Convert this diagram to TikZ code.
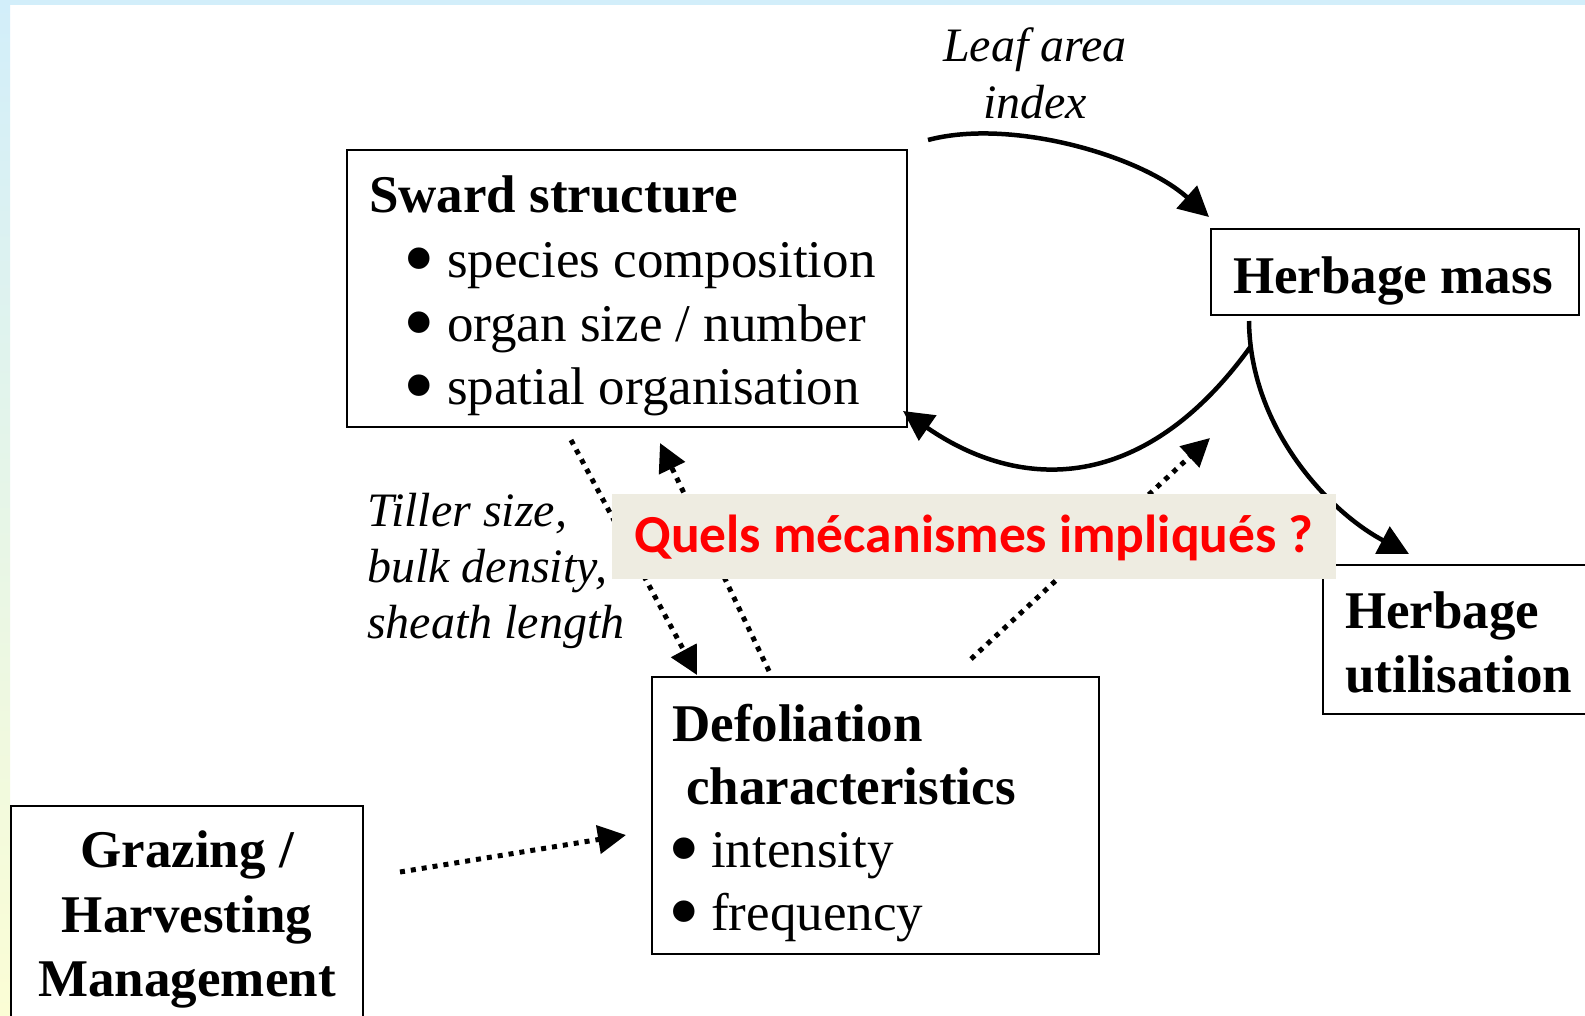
\documentclass[tikz,border=0pt]{standalone}
\usepackage{fontspec}
\setmainfont{Liberation Serif}
\newfontfamily\calibfont{Carlito}
\usetikzlibrary{arrows.meta}
\definecolor{framesky}{HTML}{D2EEFA}
\definecolor{framemint}{HTML}{E2F5E8}
\definecolor{framelemon}{HTML}{FBFDD5}
\definecolor{notetan}{HTML}{EEECE1}
\definecolor{notered}{HTML}{FF0000}
\newcommand{\boxfont}{\fontsize{53}{63}\selectfont}
\newcommand{\labfont}{\fontsize{48}{57}\selectfont\itshape}
\newcommand{\bigbul}{\raisebox{-11pt}[0pt][0pt]{\scalebox{1.7}{\textbullet}}}
\tikzset{
  sbox/.style={rectangle, draw=black, line width=2pt, inner sep=0pt},
  headtxt/.style={anchor=base west, inner sep=0pt, font=\boxfont\bfseries},
  itemtxt/.style={anchor=base west, inner sep=0pt, font=\boxfont},
  labtxt/.style={anchor=base west, inner sep=0pt, font=\labfont},
  flow/.style={line width=4.5pt, -{Triangle[length=30pt,width=30pt]}},
  dotflow/.style={line width=5pt, dash pattern=on 5pt off 6pt,
                  -{Triangle[length=28pt,width=28pt]}},
  notebox/.style={rectangle, fill=notetan, inner sep=0pt,
                  minimum width=724pt, minimum height=85pt, text=notered,
                  font=\calibfont\bfseries\fontsize{53.5}{60}\selectfont},
}

\begin{document}
\begin{tikzpicture}[x=1pt, y=-1pt]
  \useasboundingbox (0,0) rectangle (1585,1015);
  % --- slide frame ---
  \fill[white] (0,0) rectangle (1585,1015);
  \fill[framesky] (0,0) rectangle (1585,5);
  \shade[top color=framesky, middle color=framemint, bottom color=framelemon]
    (0,0) rectangle (10,1015);

  % --- Boxes ---
  \node[sbox, minimum width=560pt, minimum height=277pt] (sward) at (627,288.5) {};
  \node[sbox, minimum width=368pt, minimum height=86pt]  (mass)  at (1395,272) {};
  \node[sbox, minimum width=272pt, minimum height=149pt] (util)  at (1459,639.5) {};
  \node[sbox, minimum width=447pt, minimum height=277pt] (defol) at (875.5,815.5) {};
  \node[sbox, minimum width=352pt, minimum height=224pt] (graz)  at (187,918) {};

  % Sward structure
  \node[headtxt] (swardhd) at (369,212) {Sward structure};
  \node[itemtxt] (swardi1) at (403,277) {\bigbul\hspace{12.5pt}species composition};
  \node[itemtxt] (swardi2) at (403,341) {\bigbul\hspace{12.5pt}organ size / number};
  \node[itemtxt] (swardi3) at (403,404) {\bigbul\hspace{12.5pt}spatial organisation};

  % Herbage mass / utilisation
  \node[headtxt] (masshd) at (1233,293) {Herbage mass};
  \node[headtxt] (utilhd1) at (1345,628) {Herbage};
  \node[headtxt] (utilhd2) at (1345,692) {utilisation};

  % Defoliation characteristics
  \node[headtxt] (defolhd1) at (672,741) {Defoliation};
  \node[headtxt] (defolhd2) at (686,804) {characteristics};
  \node[itemtxt] (defoli1) at (668,867) {\bigbul\hspace{11.5pt}intensity};
  \node[itemtxt] (defoli2) at (668,930) {\bigbul\hspace{11.5pt}frequency};

  % Grazing / Harvesting Management
  \node[headtxt, anchor=base] (grazhd1) at (187,867) {Grazing /};
  \node[headtxt, anchor=base] (grazhd2) at (187,932) {Harvesting};
  \node[headtxt, anchor=base] (grazhd3) at (187,996) {Management};

  % Labels
  \node[labtxt, anchor=base] (lai1) at (1035,61)  {Leaf area};
  \node[labtxt, anchor=base] (lai2) at (1035,118) {index};
  \node[labtxt] (til1) at (367,526) {Tiller size,};
  \node[labtxt] (til2) at (367,582) {bulk density,};
  \node[labtxt] (til3) at (367,638) {sheath length};

  % --- Solid flows ---
  \draw[flow] ([shift={(20,-9)}]sward.north east)
    .. controls (1010,118) and (1140,155) .. ([shift={(-1,-11)}]mass.north west);
  \draw[flow] ([shift={(41,30)}]mass.south west)
    .. controls (1144,495) and (1020,492) .. ([shift={(-5,-17)}]sward.south east);
  \draw[flow] ([shift={(39,5)}]mass.south west)
    .. controls (1250,430) and (1331,513) .. ([shift={(87,-10)}]util.north west);

  % --- Dotted flows ---
  \coordinate (growth) at (1210,438);
  \draw[dotflow] ([shift={(225,12)}]sward.south west) -- ([shift={(46,-1)}]defol.north west);
  \draw[dotflow] ([shift={(118,-5)}]defol.north west) -- ([shift={(314,15)}]sward.south west);
  \draw[dotflow] ([shift={(320,-17)}]defol.north west) -- (growth);
  \draw[dotflow] ([shift={(36,67)}]graz.north east) -- ([shift={(-25,19.5)}]defol.west);

  % --- Question ---
  \node[notebox, text depth=5pt] (quels) at (974,536.5) {Quels mécanismes impliqués ?};
\end{tikzpicture}
\end{document}
